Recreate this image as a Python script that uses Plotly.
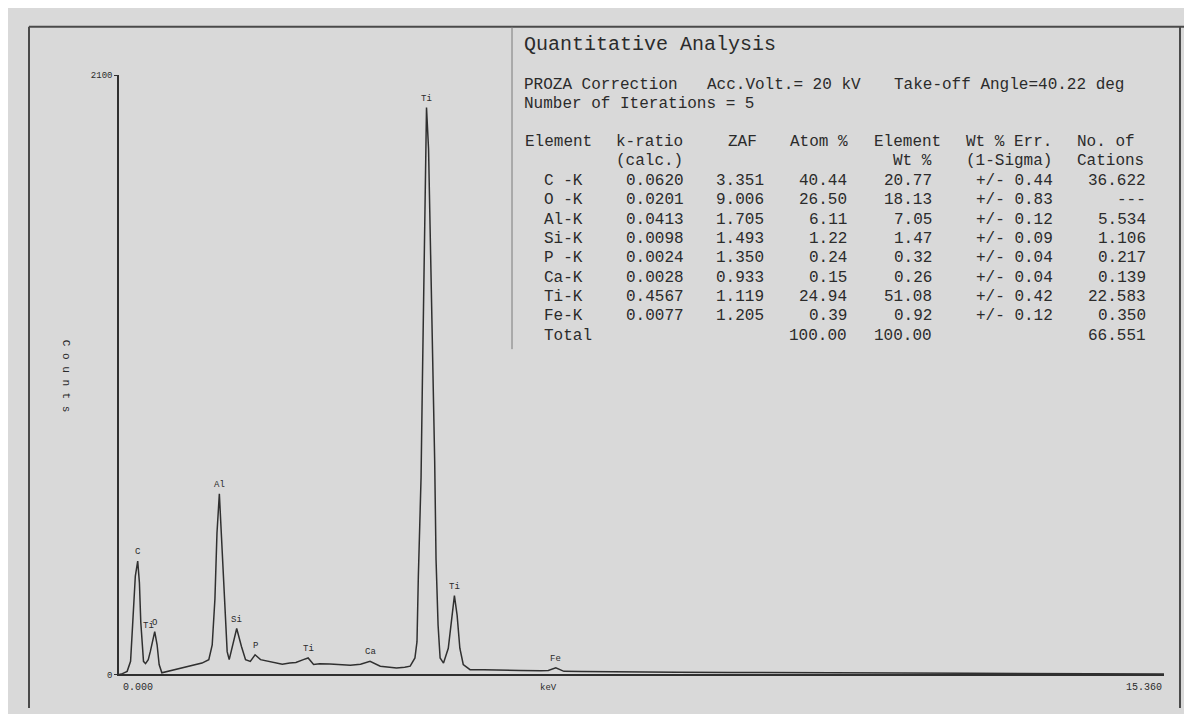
import plotly.graph_objects as go

# EDS spectrum (keV vs counts)
kev = [0.00, 0.05, 0.12, 0.17, 0.20, 0.24, 0.275, 0.30, 0.32, 0.36, 0.39, 0.43, 0.46, 0.51, 0.525,
       0.56, 0.59, 0.63, 0.70, 0.80, 0.88, 1.00, 1.12, 1.22, 1.32, 1.37, 1.41, 1.44, 1.475, 1.51,
       1.55, 1.59, 1.62, 1.67, 1.73, 1.80, 1.86, 1.93, 2.00, 2.08, 2.20, 2.32, 2.40, 2.51, 2.60,
       2.71, 2.78, 2.86, 2.95, 3.10, 3.25, 3.40, 3.55, 3.69, 3.84, 3.95, 4.08, 4.20, 4.28, 4.35,
       4.38, 4.40, 4.44, 4.46, 4.48, 4.50, 4.52, 4.55, 4.58, 4.61, 4.64, 4.66, 4.69, 4.72, 4.77,
       4.84, 4.89, 4.93, 4.97, 5.01, 5.06, 5.16, 5.36, 5.60, 5.90, 6.20, 6.31, 6.42, 6.54, 6.80,
       7.20, 7.64, 8.20, 9.00, 9.80, 10.69, 11.50, 12.50, 13.50, 14.40, 15.26, 15.36]
counts = [0, 3, 11, 46, 173, 345, 397, 322, 184, 46, 38, 52, 80, 138, 150,
          104, 35, 6, 10, 17, 23, 28, 35, 40, 52, 104, 265, 495, 633, 472,
          242, 80, 52, 104, 161, 98, 52, 46, 69, 52, 46, 40, 36, 40, 42,
          52, 58, 35, 38, 37, 34, 32, 36, 46, 29, 27, 23, 25, 29, 58,
          115, 345, 691, 1036, 1382, 1727, 1986, 1842, 1497, 1151, 748, 403, 173, 58, 40,
          92, 207, 276, 207, 92, 35, 17, 17, 15, 14, 13, 14, 23, 11, 10,
          10, 9, 8, 7, 7, 6, 5, 4, 4, 3, 2, 2]

# peak identification labels
peak_names = ["C", "Ti", "O", "Al", "Si", "P", "Ti", "Ca", "Ti", "Ti", "Fe"]
peak_kev = [0.275, 0.43, 0.525, 1.475, 1.73, 2.00, 2.78, 3.69, 4.52, 4.93, 6.42]
peak_counts = [397, 140, 150, 633, 161, 69, 58, 46, 1986, 276, 23]

# quantitative analysis table
elements = ["C -K", "O -K", "Al-K", "Si-K", "P -K", "Ca-K", "Ti-K", "Fe-K"]
k_ratio = [0.0620, 0.0201, 0.0413, 0.0098, 0.0024, 0.0028, 0.4567, 0.0077]
zaf = [3.351, 9.006, 1.705, 1.493, 1.350, 0.933, 1.119, 1.205]
atom_pct = [40.44, 26.50, 6.11, 1.22, 0.24, 0.15, 24.94, 0.39]
wt_pct = [20.77, 18.13, 7.05, 1.47, 0.32, 0.26, 51.08, 0.92]
wt_err = [0.44, 0.83, 0.12, 0.09, 0.04, 0.04, 0.42, 0.12]
cations = [36.622, None, 5.534, 1.106, 0.217, 0.139, 22.583, 0.350]
total_atom, total_wt, total_cations = 100.00, 100.00, 66.551

# page body has an 8px margin all round; size the figure so the page fits the window
OFF = 8
W, H = 1192 - 2 * OFF, 722 - 2 * OFF
MONO = "Courier New, Liberation Mono, monospace"
INK = "#2b2b2b"


def px(x):
    return (x - OFF) / W


def py(y):
    return 1 - (y - OFF) / H


fig = go.Figure()
fig.add_trace(go.Scatter(x=kev, y=counts, mode="lines",
                         line=dict(color="#303030", width=1.5), hoverinfo="skip"))

ann = []
# peak labels
for name, xv, yv in zip(peak_names, peak_kev, peak_counts):
    ann.append(dict(x=xv, y=yv, xref="x", yref="y", text=name, showarrow=False,
                    yanchor="bottom", yshift=2, font=dict(family=MONO, size=9, color=INK)))

# axis labels
ann.append(dict(x=0, y=0, xref="x", yref="y", text="0.000", showarrow=False, xanchor="left",
                yanchor="top", yshift=-6, xshift=2, font=dict(family=MONO, size=10, color=INK)))
ann.append(dict(x=15.36, y=0, xref="x", yref="y", text="15.360", showarrow=False, xanchor="right",
                yanchor="top", yshift=-6, font=dict(family=MONO, size=10, color=INK)))
ann.append(dict(x=6.32, y=0, xref="x", yref="y", text="keV", showarrow=False,
                yanchor="top", yshift=-7, font=dict(family=MONO, size=9, color=INK)))
ann.append(dict(x=px(58), y=py(377), xref="paper", yref="paper", text="C o u n t s",
                showarrow=False, textangle=90, font=dict(family=MONO, size=11, color=INK)))


def txt(x, y, s, anchor="left", size=16):
    ann.append(dict(x=px(x), y=py(y), xref="paper", yref="paper", text=s, showarrow=False,
                    xanchor=anchor, yanchor="middle", font=dict(family=MONO, size=size, color=INK)))


txt(522, 41, "Quantitative Analysis", size=20)
txt(522, 82, "PROZA Correction")
txt(705, 82, "Acc.Volt.= 20 kV")
txt(892, 82, "Take-off Angle=40.22 deg")
txt(522, 101, "Number of Iterations = 5")

txt(523, 140, "Element")
txt(614, 140, "k-ratio")
txt(726, 140, "ZAF")
txt(788, 140, "Atom %")
txt(872, 140, "Element")
txt(964, 140, "Wt % Err.")
txt(1075, 140, "No. of")
txt(614, 159, "(calc.)")
txt(934, 159, "Wt %", "right")
txt(964, 159, "(1-Sigma)")
txt(1075, 159, "Cations")

for i, el in enumerate(elements):
    y = 179.5 + i * 19.6
    txt(542, y, el)
    txt(686, y, f"{k_ratio[i]:.4f}", "right")
    txt(766, y, f"{zaf[i]:.3f}", "right")
    txt(849, y, f"{atom_pct[i]:.2f}", "right")
    txt(934, y, f"{wt_pct[i]:.2f}", "right")
    txt(1055, y, f"+/- {wt_err[i]:.2f}", "right")
    txt(1148, y, "---" if cations[i] is None else f"{cations[i]:.3f}", "right")
yt = 179.5 + len(elements) * 19.6
txt(542, yt, "Total")
txt(849, yt, f"{total_atom:.2f}", "right")
txt(934, yt, f"{total_wt:.2f}", "right")
txt(1148, yt, f"{total_cations:.3f}", "right")

shapes = [
    dict(type="line", xref="paper", yref="paper", x0=px(29), x1=px(1187), y0=py(23), y1=py(23),
         line=dict(color="#4a4a4a", width=2)),
    dict(type="line", xref="paper", yref="paper", x0=px(29), x1=px(29), y0=py(23), y1=0,
         line=dict(color="#4a4a4a", width=2)),
    dict(type="line", xref="paper", yref="paper", x0=px(1180), x1=px(1180), y0=py(23), y1=0,
         line=dict(color="#4a4a4a", width=2)),
    dict(type="line", xref="paper", yref="paper", x0=px(512), x1=px(512), y0=py(23), y1=py(350),
         line=dict(color="#7a7a7a", width=1)),
]

fig.update_layout(
    width=W, height=H,
    margin=dict(l=0, r=0, t=0, b=0),
    paper_bgcolor="#d9d9d9", plot_bgcolor="rgba(0,0,0,0)",
    showlegend=False,
    annotations=ann, shapes=shapes,
    xaxis=dict(domain=[px(119), px(1164)], range=[0, 15.36], showgrid=False, zeroline=False,
               showline=True, linecolor="#303030", linewidth=2, showticklabels=False, ticks=""),
    yaxis=dict(domain=[py(680), py(72)], range=[0, 2100], showgrid=False, zeroline=False,
               showline=True, linecolor="#303030", linewidth=1.5, tickvals=[0, 2100],
               ticktext=["0", "2100"], ticks="outside", ticklen=3, tickcolor="#303030",
               tickfont=dict(family=MONO, size=9, color=INK)),
)

fig.write_html("out.html")
